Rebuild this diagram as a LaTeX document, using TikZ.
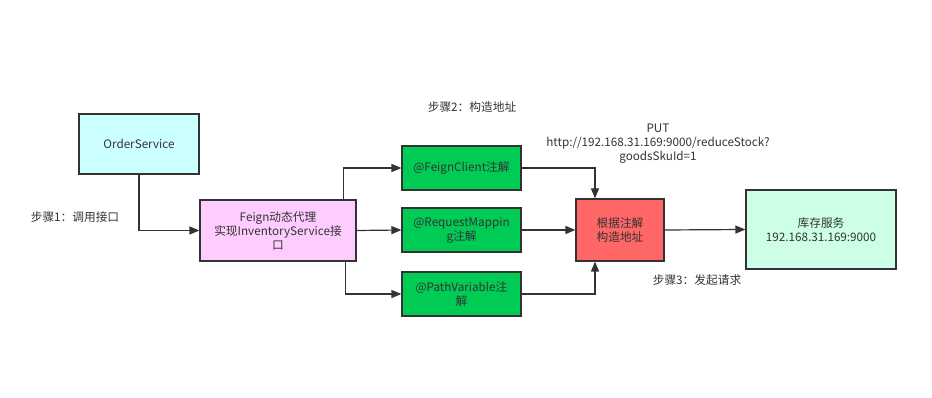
\documentclass[tikz,border=0pt]{standalone}
\usepackage{fontspec}
\setmainfont{Noto Sans CJK SC}
\usetikzlibrary{arrows.meta,positioning}
\definecolor{txtgray}{HTML}{333333}
\definecolor{ordercyan}{HTML}{CCFFFF}
\definecolor{feignpink}{HTML}{FFCCFF}
\definecolor{annogreen}{HTML}{00CC55}
\definecolor{addrred}{HTML}{FF6666}
\definecolor{stockmint}{HTML}{CCFFE6}

\begin{document}
\begin{tikzpicture}[x=1pt, y=-1pt, font=\fontsize{11.7}{14}\selectfont, >={Triangle[length=10pt,width=8pt]}, line width=1.2pt]
    \tikzset{
        box/.style={draw=black!80, text=txtgray, align=center, inner sep=2pt},
        annobox/.style={box, fill=annogreen, minimum width=119pt, minimum height=44pt},
        steplabel/.style={text=txtgray, align=center, inner sep=0pt},
        conn/.style={->, draw=black!80}
    }
    \useasboundingbox (0,0) rectangle (932,398);

    % Caller
    \node[box, fill=ordercyan, minimum width=120pt, minimum height=60pt] (order) at (139,144) {OrderService};
    \node[box, fill=feignpink, minimum width=156pt, minimum height=61pt] (feign) at (278,230.5) {Feign动态代理\\实现InventoryService接\\口};

    % Annotations
    \node[annobox] (fclient) at (461.5,168) {@FeignClient注解};
    \node[annobox] (rmap) at (461.5,230) {@RequestMappin\\g注解};
    \node[annobox] (pvar) at (461.5,294) {@PathVariable注\\解};

    % Address and service
    \node[box, fill=addrred, minimum width=88pt, minimum height=62pt] (addr) at (620,230) {根据注解\\构造地址};
    \node[box, fill=stockmint, minimum width=150pt, minimum height=79pt] (stock) at (821,229.5) {库存服务\\192.168.31.169:9000};

    % Labels
    \node[steplabel] (step1) at (75,217) {步骤1：调用接口};
    \node[steplabel] (step2) at (472,107) {步骤2：构造地址};
    \node[steplabel] (url) at (658,144) {PUT\\http://192.168.31.169:9000/reduceStock?\\goodsSkuId=1};
    \node[steplabel] (step3) at (697,280) {步骤3：发起请求};

    % Arrows
    \draw[conn] (order.south) |- (feign.west);
    \draw[conn] ([xshift=-13pt]feign.north east) |- (fclient.west);
    \draw[conn] (feign.east) -- (rmap.west);
    \draw[conn] ([xshift=-11pt]feign.south east) |- (pvar.west);
    \draw[conn] (fclient.east) -| ([xshift=-25pt]addr.north);
    \draw[conn] (rmap.east) -- (addr.west);
    \draw[conn] (pvar.east) -| ([xshift=-25pt]addr.south);
    \draw[conn] (addr.east) -- (stock.west);
\end{tikzpicture}
\end{document}
